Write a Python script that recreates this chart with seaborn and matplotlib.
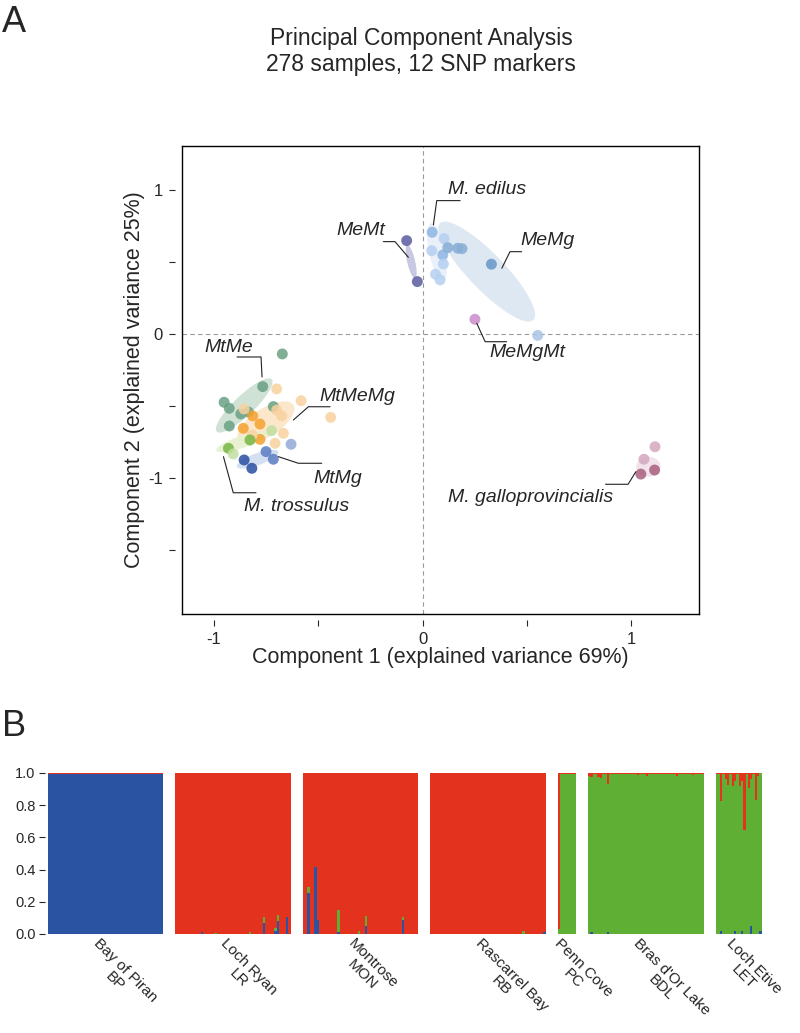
import numpy as np
import pandas as pd
import matplotlib
matplotlib.use("Agg")
import matplotlib.pyplot as plt
import seaborn as sns

# ----------------------------------------------------------
# A. PCA scores
# ----------------------------------------------------------

memt_pc1 = [-0.077, -0.026]
memt_pc2 = [0.649, 0.364]

edilus_pc1 = [0.045, 0.102, 0.043, 0.096, 0.099, 0.061, 0.083]
edilus_pc2 = [0.707, 0.663, 0.579, 0.549, 0.487, 0.415, 0.376]
edilus_sub = [2, 1, 1, 2, 1, 1, 1]

memg_pc1 = [0.120, 0.168, 0.188, 0.329, 0.551]
memg_pc2 = [0.600, 0.596, 0.593, 0.485, -0.010]
memg_sub = [1, 1, 1, 2, 3]

memgmt_pc1 = [0.250]
memgmt_pc2 = [0.102]

gallo_pc1 = [1.113, 1.060, 1.045, 1.111]
gallo_pc2 = [-0.784, -0.871, -0.974, -0.946]
gallo_sub = [1, 1, 2, 2]

mtme_pc1 = [-0.673, -0.767, -0.952, -0.927, -0.872, -0.836, -0.927, -0.716]
mtme_pc2 = [-0.139, -0.366, -0.475, -0.517, -0.556, -0.542, -0.640, -0.505]

mtmemg_pc1 = [-0.815, -0.780, -0.860, -0.780, -0.700, -0.583, -0.441, -0.856,
              -0.676, -0.817, -0.668, -0.708, -0.700]
mtmemg_pc2 = [-0.570, -0.626, -0.656, -0.733, -0.382, -0.464, -0.580, -0.522,
              -0.570, -0.702, -0.691, -0.760, -0.530]
mtmemg_sub = [1, 1, 1, 1, 2, 2, 2, 2, 2, 2, 2, 2, 2]

mtmg_pc1 = [-0.631, -0.751, -0.716, -0.856, -0.819]
mtmg_pc2 = [-0.767, -0.818, -0.871, -0.876, -0.934]
mtmg_sub = [3, 2, 2, 1, 1]

tross_pc1 = [-0.931, -0.908, -0.828, -0.724]
tross_pc2 = [-0.795, -0.834, -0.737, -0.672]
tross_sub = [1, 2, 1, 2]

# 95% ellipses: two tips of the long axis (data units) + half width (px)
ell_group = ["MeMt", "M. edilus", "MeMg", "M. galloprovincialis",
             "MtMe", "MtMeMg", "MtMg", "M. trossulus"]
ell_x1 = [-0.074, 0.040, 0.083, 1.023, -0.987, -0.883, -0.891, -0.990]
ell_y1 = [0.619, 0.770, 0.770, -0.923, -0.679, -0.737, -0.923, -0.810]
ell_x2 = [-0.037, 0.098, 0.530, 1.140, -0.724, -0.620, -0.692, -0.740]
ell_y2 = [0.387, 0.375, 0.097, -0.923, -0.315, -0.494, -0.818, -0.690]
ell_half_px = [4, 8, 18, 10, 10, 14, 6, 6]

# labels and leader lines (text centre, then 3 line vertices)
lab_text = ["M. edilus", "MeMt", "MeMg", "MeMgMt", "M. galloprovincialis",
            "MtMe", "MtMeMg", "MtMg", "M. trossulus"]
lab_x = [0.310, -0.296, 0.600, 0.500, 0.517, -0.928, -0.315, -0.408, -0.607]
lab_y = [1.001, 0.720, 0.650, -0.132, -1.140, -0.097, -0.438, -1.008, -1.203]
lead_x = [[0.179, 0.067, 0.051], [-0.189, -0.133, -0.069], [0.474, 0.418, 0.379],
          [0.259, 0.299, 0.402], [0.876, 0.984, 1.021], [-0.890, -0.775, -0.770],
          [-0.444, -0.548, -0.620], [-0.484, -0.596, -0.692], [-0.799, -0.908, -0.955]]
lead_y = [[0.927, 0.927, 0.758], [0.642, 0.642, 0.533], [0.572, 0.572, 0.457],
          [0.074, -0.054, -0.054], [-1.045, -1.045, -0.958], [-0.160, -0.160, -0.299],
          [-0.506, -0.506, -0.598], [-0.899, -0.899, -0.853], [-1.104, -1.104, -0.853]]

# ----------------------------------------------------------
# B. STRUCTURE (K = 3) membership
# ----------------------------------------------------------

pop_labels = ["Bay of Piran\nBP", "Loch Ryan\nLR", "Montrose\nMON", "Rascarrel Bay\nRB",
              "Penn Cove\nPC", "Bras d'Or Lake\nBDL", "Loch Etive\nLET"]
pop_sizes = [50, 50, 50, 50, 8, 50, 20]
default_blue = [0.993, 0.0, 0.0, 0.0, 0.0, 0.0, 0.0]
default_green = [0.0, 0.0, 0.0, 0.0, 0.995, 0.995, 0.995]

# admixed individuals: population, sample index, blue, green, red
adm_pop = [1, 1, 1, 1, 1, 1, 1,
           2, 2, 2, 2, 2, 2, 2,
           3, 3,
           4,
           5, 5, 5, 5, 5, 5, 5, 5, 5,
           6, 6, 6, 6, 6, 6, 6, 6, 6, 6, 6, 6, 6]
adm_idx = [11, 17, 32, 38, 43, 44, 48,
           2, 5, 6, 15, 24, 27, 43,
           40, 49,
           0,
           0, 1, 4, 5, 8, 21, 25, 38, 45,
           2, 4, 5, 7, 8, 10, 11, 12, 14, 15, 17, 18, 19]
adm_blue = [0.010, 0.0, 0.0, 0.067, 0.020, 0.078, 0.108,
            0.257, 0.414, 0.090, 0.010, 0.0, 0.047, 0.088,
            0.0, 0.010,
            0.0,
            0.0, 0.010, 0.0, 0.0, 0.010, 0.0, 0.0, 0.0, 0.0,
            0.020, 0.0, 0.0, 0.0, 0.020, 0.0, 0.020, 0.0, 0.0, 0.050, 0.0, 0.0, 0.020]
adm_green = [0.0, 0.008, 0.010, 0.040, 0.020, 0.037, 0.0,
             0.037, 0.0, 0.0, 0.140, 0.020, 0.065, 0.020,
             0.020, 0.0,
             0.030,
             None, None, None, None, None, None, None, None, None,
             None, None, None, None, None, None, None, None, None, None, None, None, None]
adm_red = [None, None, None, None, None, None, None,
           None, None, None, None, None, None, None,
           None, None,
           None,
           0.020, 0.025, 0.025, 0.030, 0.070, 0.012, 0.016, 0.016, 0.014,
           0.176, 0.040, 0.072, 0.079, 0.052, 0.083, 0.050, 0.352, 0.093, 0.040, 0.170, 0.020, 0.0]

BLUE, GREEN, RED = "#2A54A1", "#5EAF33", "#E3331F"
GAP = 5.2

# ----------------------------------------------------------
# Style
# ----------------------------------------------------------

sns.set_theme(style="ticks")
plt.rcParams["font.family"] = ["Liberation Sans", "DejaVu Sans"]

palette = {
    "MeMt 1": "#5B5B9F",
    "M. edilus 1": "#B5D0F0", "M. edilus 2": "#8DB6E3",
    "MeMg 1": "#86ADD5", "MeMg 2": "#6796C6", "MeMg 3": "#A9C5E6",
    "MeMgMt 1": "#C98CCB",
    "M. galloprovincialis 1": "#D4A8C0", "M. galloprovincialis 2": "#A8607F",
    "MtMe 1": "#6AA184",
    "MtMeMg 1": "#F4A12F", "MtMeMg 2": "#F8D2A0",
    "MtMg 1": "#2A4DA2", "MtMg 2": "#5A7CC2", "MtMg 3": "#93A8D8",
    "M. trossulus 1": "#78B645", "M. trossulus 2": "#C2DEA0",
}
ell_color = {
    "MeMt": "#C2C2E0", "M. edilus": "#E7EFF9", "MeMg": "#DBE6F2",
    "M. galloprovincialis": "#F1DFE8", "MtMe": "#CBDFD2",
    "MtMeMg": "#FCE5C6", "MtMg": "#D1DCF1", "M. trossulus": "#E6F1CF",
}

# ----------------------------------------------------------
# Build PCA table
# ----------------------------------------------------------

def block(name, x, y, sub=None):
    if sub is None:
        sub = [1] * len(x)
    return pd.DataFrame({"pc1": x, "pc2": y,
                         "cls": [f"{name} {s}" for s in sub]})

pca = pd.concat([
    block("MtMe", mtme_pc1, mtme_pc2),
    block("MtMeMg", mtmemg_pc1, mtmemg_pc2, mtmemg_sub),
    block("M. trossulus", tross_pc1, tross_pc2, tross_sub),
    block("MtMg", mtmg_pc1, mtmg_pc2, mtmg_sub),
    block("M. edilus", edilus_pc1, edilus_pc2, edilus_sub),
    block("MeMg", memg_pc1, memg_pc2, memg_sub),
    block("MeMt", memt_pc1, memt_pc2),
    block("MeMgMt", memgmt_pc1, memgmt_pc2),
    block("M. galloprovincialis", gallo_pc1, gallo_pc2, gallo_sub),
], ignore_index=True)

fig = plt.figure(figsize=(8, 10.33), dpi=100)

# ----------------------------------------------------------
# Panel A
# ----------------------------------------------------------

ax = fig.add_axes([0.2269, 0.4056, 0.6469, 0.4531])
ax.set_xlim(-1.156, 1.324)
ax.set_ylim(-1.947, 1.307)

ax.axhline(0, color="#9a9a9a", lw=0.8, ls=(0, (4, 3)), zorder=0)
ax.axvline(0, color="#9a9a9a", lw=0.8, ls=(0, (4, 3)), zorder=0)


def draw_ellipse(x1, y1, x2, y2, half_px, color):
    p = ax.transData.transform([(x1, y1), (x2, y2)])
    c = p.mean(axis=0)
    d = p[1] - p[0]
    a = np.hypot(*d) / 2
    u = d / (2 * a)
    v = np.array([-u[1], u[0]])
    t = np.linspace(0, 2 * np.pi, 120)
    pts = c + np.outer(a * np.cos(t), u) + np.outer(half_px * np.sin(t), v)
    xy = ax.transData.inverted().transform(pts)
    ax.fill(xy[:, 0], xy[:, 1], color=color, lw=0, alpha=0.9, zorder=1)


for g, x1, y1, x2, y2, hw in zip(ell_group, ell_x1, ell_y1, ell_x2, ell_y2, ell_half_px):
    draw_ellipse(x1, y1, x2, y2, hw, ell_color[g])

sns.scatterplot(data=pca, x="pc1", y="pc2", hue="cls", palette=palette,
                s=62, alpha=0.85, edgecolor="none", legend=False, ax=ax, zorder=3)

for txt, tx, ty, lx, ly in zip(lab_text, lab_x, lab_y, lead_x, lead_y):
    ax.text(tx, ty, txt, style="italic", fontsize=14, ha="center", va="center")
    ax.plot(lx, ly, color="#222222", lw=0.8, zorder=4)

ax.set_xlabel("Component 1 (explained variance 69%)", fontsize=15.5, labelpad=24)
ax.set_ylabel("Component 2 (explained variance 25%)", fontsize=15.5, labelpad=26)
ax.tick_params(length=0, labelbottom=False, labelleft=False)
for sp in ax.spines.values():
    sp.set_visible(True)
    sp.set_color("black")
    sp.set_linewidth(1.0)

# detached R-style ticks
secx = ax.secondary_xaxis(-0.012)
secx.set_xticks([-1, -0.5, 0, 0.5, 1], labels=["-1", "", "0", "", "1"])
secx.spines["bottom"].set_visible(False)
secx.tick_params(length=4, width=0.8, labelsize=12, pad=5)

secy = ax.secondary_yaxis(-0.012)
secy.set_yticks([-1.5, -1, -0.5, 0, 0.5, 1], labels=["", "-1", "", "0", "", "1"])
secy.spines["left"].set_visible(False)
secy.tick_params(length=4, width=0.8, labelsize=12, pad=5)

fig.text(0.5265, 1 - 38 / 1033, "Principal Component Analysis", fontsize=16.5,
         ha="center", va="center")
fig.text(0.5265, 1 - 65 / 1033, "278 samples, 12 SNP markers", fontsize=16.5,
         ha="center", va="center")
fig.text(0.002, 1 - 22 / 1033, "A", fontsize=26, ha="left", va="center")

# ----------------------------------------------------------
# Panel B
# ----------------------------------------------------------

x_pos, q_blue, q_green, q_red, centres = [], [], [], [], []
start = 0.0
for p, n in enumerate(pop_sizes):
    b = np.full(n, default_blue[p])
    g = np.full(n, default_green[p])
    for pp, i, bb, gg, rr in zip(adm_pop, adm_idx, adm_blue, adm_green, adm_red):
        if pp != p:
            continue
        b[i] = bb
        if gg is not None:
            g[i] = gg
        else:
            g[i] = 1.0 - bb - rr
    r = 1.0 - b - g
    x_pos.append(start + np.arange(n) + 0.5)
    q_blue.append(b)
    q_green.append(g)
    q_red.append(r)
    centres.append(start + n / 2)
    start += n + GAP

x_pos = np.concatenate(x_pos)
q_blue = np.concatenate(q_blue)
q_green = np.concatenate(q_green)
q_red = np.concatenate(q_red)

ax2 = fig.add_axes([0.05675, 0.09584, 0.8954, 0.15586])
ax2.bar(x_pos, q_blue, width=1.0, color=BLUE, lw=0, antialiased=False)
ax2.bar(x_pos, q_green, width=1.0, bottom=q_blue, color=GREEN, lw=0, antialiased=False)
ax2.bar(x_pos, q_red, width=1.0, bottom=q_blue + q_green, color=RED, lw=0,
        antialiased=False)
ax2.set_xlim(-1, start - GAP)
ax2.set_ylim(0, 1)
ax2.set_yticks([0, 0.2, 0.4, 0.6, 0.8, 1.0],
               labels=["0.0", "0.2", "0.4", "0.6", "0.8", "1.0"])
ax2.tick_params(axis="y", length=4, width=0.8, labelsize=10.5, pad=3)
ax2.set_xticks([])
sns.despine(ax=ax2, left=True, bottom=True)

for c, lab in zip(centres, pop_labels):
    ax2.text(c - 2, -0.015, lab, rotation=-45, rotation_mode="anchor",
             ha="left", va="top", multialignment="center", fontsize=11,
             linespacing=1.1)

fig.text(0.002, 1 - 727 / 1033, "B", fontsize=26, ha="left", va="center")

fig.savefig("out.png", dpi=100)
